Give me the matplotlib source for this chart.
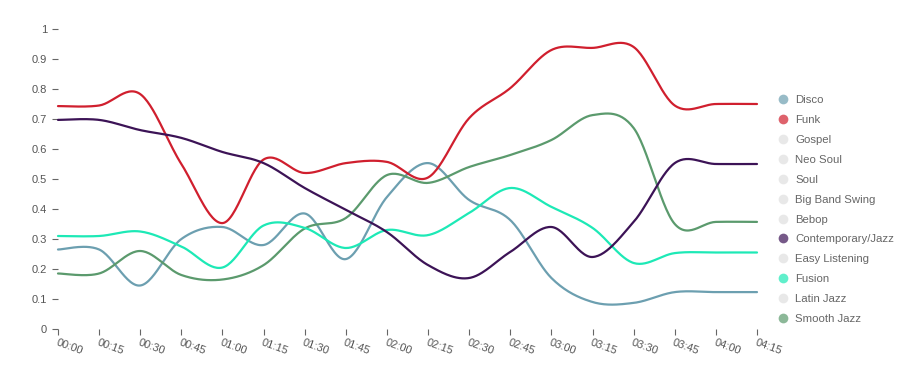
import numpy as np
import matplotlib
matplotlib.use('Agg')
import matplotlib.pyplot as plt
from matplotlib.lines import Line2D

plt.rcParams['font.family'] = ['Liberation Sans', 'DejaVu Sans']

times = ['00:00', '00:15', '00:30', '00:45', '01:00', '01:15', '01:30', '01:45', '02:00',
         '02:15', '02:30', '02:45', '03:00', '03:15', '03:30', '03:45', '04:00', '04:15']

disco = [0.265, 0.265, 0.145, 0.30, 0.34, 0.28, 0.385, 0.233, 0.44, 0.553,
         0.43, 0.363, 0.17, 0.09, 0.087, 0.123, 0.123, 0.123]
funk = [0.743, 0.745, 0.783, 0.55, 0.353, 0.565, 0.52, 0.553, 0.557, 0.505,
        0.703, 0.803, 0.93, 0.937, 0.94, 0.745, 0.75, 0.75]
contemporary = [0.697, 0.697, 0.663, 0.637, 0.59, 0.553, 0.47, 0.397, 0.323, 0.213,
                0.17, 0.257, 0.34, 0.24, 0.357, 0.553, 0.55, 0.55]
fusion = [0.31, 0.31, 0.325, 0.275, 0.205, 0.345, 0.337, 0.27, 0.33, 0.313,
          0.387, 0.47, 0.407, 0.337, 0.22, 0.253, 0.255, 0.255]
smooth_jazz = [0.185, 0.185, 0.26, 0.18, 0.165, 0.213, 0.335, 0.37, 0.513, 0.487,
               0.54, 0.58, 0.63, 0.713, 0.67, 0.35, 0.357, 0.357]

genres = ['Disco', 'Funk', 'Gospel', 'Neo Soul', 'Soul', 'Big Band Swing', 'Bebop',
          'Contemporary/Jazz', 'Easy Listening', 'Fusion', 'Latin Jazz', 'Smooth Jazz']
series = {'Disco': disco, 'Funk': funk, 'Contemporary/Jazz': contemporary,
          'Fusion': fusion, 'Smooth Jazz': smooth_jazz}
colors = {'Disco': '#6c9fb0', 'Funk': '#d01f2e', 'Contemporary/Jazz': '#3c1356',
          'Fusion': '#1de9b6', 'Smooth Jazz': '#5b9a6d'}


def catmull(x, y, n=30):
    # smooth curve through every point (cardinal spline, tension 0)
    x = np.asarray(x, float)
    y = np.asarray(y, float)
    px = np.concatenate([[x[0]], x, [x[-1]]])
    py = np.concatenate([[y[0]], y, [y[-1]]])
    t = np.linspace(0, 1, n)
    h00 = 2*t**3 - 3*t**2 + 1
    h10 = t**3 - 2*t**2 + t
    h01 = -2*t**3 + 3*t**2
    h11 = t**3 - t**2
    outx, outy = [], []
    for i in range(1, len(px) - 2):
        mx1 = (px[i+1] - px[i-1]) / 2
        mx2 = (px[i+2] - px[i]) / 2
        my1 = (py[i+1] - py[i-1]) / 2
        my2 = (py[i+2] - py[i]) / 2
        outx.append(h00*px[i] + h10*mx1 + h01*px[i+1] + h11*mx2)
        outy.append(h00*py[i] + h10*my1 + h01*py[i+1] + h11*my2)
    return np.concatenate(outx), np.concatenate(outy)


fig = plt.figure(figsize=(9.01, 3.81), dpi=100)
ax = fig.add_axes([58/901, 52/381, 699/901, 300/381])

xs = np.arange(len(times))
for name in ['Disco', 'Funk', 'Smooth Jazz', 'Fusion', 'Contemporary/Jazz']:
    sx, sy = catmull(xs, series[name])
    ax.plot(sx, sy, color=colors[name], lw=1.6, solid_capstyle='round', clip_on=False)

ax.set_xlim(0, len(times) - 1)
ax.set_ylim(0, 1)
for s in ax.spines.values():
    s.set_visible(False)

ax.set_yticks(np.arange(0, 1.01, 0.1))
ax.set_yticklabels([f'{v:g}' for v in np.round(np.arange(0, 1.01, 0.1), 1)])
ax.set_xticks(xs)
ax.set_xticklabels(times, rotation=-20, ha='left', va='top', rotation_mode='anchor')
ax.tick_params(axis='both', length=4, width=0.8, color='#666666', labelcolor='#555555',
               labelsize=8)
ax.tick_params(axis='y', pad=4)
ax.tick_params(axis='x', pad=2)

handles = []
for g in genres:
    c = colors.get(g, '#e8e8e8')
    a = 0.7 if g in colors else 1.0
    handles.append(Line2D([], [], ls='none', marker='o', markersize=7,
                          markerfacecolor=c, markeredgecolor='none', alpha=a, label=g))
leg = ax.legend(handles=handles, loc='center left', bbox_to_anchor=(1.022, 0.398),
                frameon=False, fontsize=8.2, labelspacing=0.87, handletextpad=0.6,
                handlelength=1.0, borderaxespad=0)
for t in leg.get_texts():
    t.set_color('#666666')

fig.savefig('out.png', dpi=100)
